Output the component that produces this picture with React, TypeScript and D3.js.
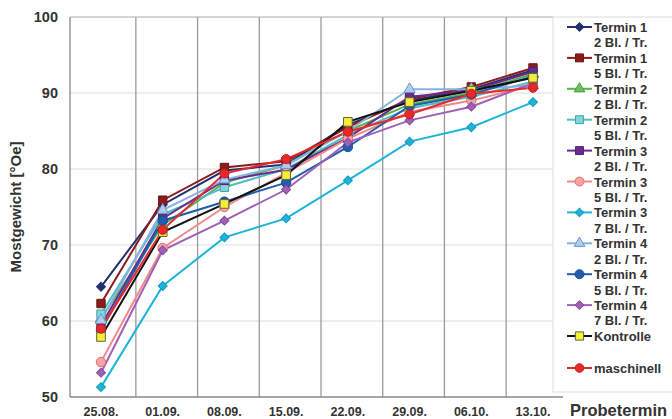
import React from "react";
import * as d3 from "d3";

const categories = ["25.08.", "01.09.", "08.09.", "15.09.", "22.09.", "29.09.", "06.10.", "13.10."];
const yTicks = [50, 60, 70, 80, 90, 100];

const t1_2 = [64.5, 75.3, 79.8, 80.6, 85.8, 89.0, 90.5, 93.0];
const t1_5 = [62.3, 75.9, 80.2, 81.0, 85.5, 89.2, 90.8, 93.3];
const t2_2 = [60.3, 72.6, 78.2, 80.5, 85.0, 88.5, 90.0, 92.5];
const t2_5 = [60.9, 74.0, 77.6, 80.0, 84.5, 88.0, 89.5, 91.5];
const t3_2 = [59.4, 73.5, 78.5, 79.9, 84.1, 89.5, 90.3, 92.8];
const t3_5 = [54.6, 69.6, 75.0, 79.5, 84.0, 87.5, 89.0, 91.0];
const t3_7 = [51.3, 64.6, 71.0, 73.5, 78.5, 83.6, 85.5, 88.8];
const t4_2 = [60.1, 74.6, 78.6, 80.5, 85.0, 90.5, 90.5, 91.0];
const t4_5 = [58.8, 73.2, 75.7, 78.2, 82.9, 88.3, 89.8, 92.2];
const t4_7 = [53.2, 69.3, 73.2, 77.3, 83.5, 86.4, 88.2, 91.3];
const kontrolle = [57.9, 71.7, 75.4, 79.2, 86.2, 88.8, 90.3, 92.0];
const maschinell = [59.0, 72.0, 79.4, 81.3, 84.9, 87.2, 89.9, 90.7];

const seriesNames = [
  ["Termin 1", "2 Bl. / Tr."],
  ["Termin 1", "5 Bl. / Tr."],
  ["Termin 2", "2 Bl. / Tr."],
  ["Termin 2", "5 Bl. / Tr."],
  ["Termin 3", "2 Bl. / Tr."],
  ["Termin 3", "5 Bl. / Tr."],
  ["Termin 3", "7 Bl. / Tr."],
  ["Termin 4", "2 Bl. / Tr."],
  ["Termin 4", "5 Bl. / Tr."],
  ["Termin 4", "7 Bl. / Tr."],
  ["Kontrolle"],
  ["maschinell"],
];
const seriesValues = [t1_2, t1_5, t2_2, t2_5, t3_2, t3_5, t3_7, t4_2, t4_5, t4_7, kontrolle, maschinell];

type Style = { line: string; fill: string; stroke: string; shape: d3.SymbolType; size: number };
const styles: Style[] = [
  { line: "#23306e", fill: "#23306e", stroke: "#23306e", shape: d3.symbolSquare, size: 40 },
  { line: "#8a1c1c", fill: "#8a1c1c", stroke: "#6e1414", shape: d3.symbolSquare, size: 70 },
  { line: "#5ab44e", fill: "#6cc060", stroke: "#4a9a40", shape: d3.symbolTriangle, size: 55 },
  { line: "#52bcc6", fill: "#86d4da", stroke: "#3aa4b0", shape: d3.symbolSquare, size: 70 },
  { line: "#6a2c8c", fill: "#6a2c8c", stroke: "#55207a", shape: d3.symbolSquare, size: 70 },
  { line: "#f08a8a", fill: "#f5a3a3", stroke: "#e07070", shape: d3.symbolCircle, size: 70 },
  { line: "#1cb4d8", fill: "#1cb4d8", stroke: "#1598b8", shape: d3.symbolSquare, size: 40 },
  { line: "#88b2e0", fill: "#b0cdee", stroke: "#6a96cc", shape: d3.symbolTriangle, size: 55 },
  { line: "#1f5eae", fill: "#1f5eae", stroke: "#184c90", shape: d3.symbolCircle, size: 70 },
  { line: "#a060b6", fill: "#a060b6", stroke: "#84489a", shape: d3.symbolSquare, size: 40 },
  { line: "#111111", fill: "#f4ee3a", stroke: "#666633", shape: d3.symbolSquare, size: 75 },
  { line: "#e8282c", fill: "#e8282c", stroke: "#c01c20", shape: d3.symbolCircle, size: 65 },
];
const rotated = [true, false, false, false, false, false, true, false, false, true, false, false];

const W = 672;
const H = 419;
const plotLeft = 70;
const plotRight = 553;
const plotTop = 17;
const plotBottom = 397;

export default function App() {
  const x = d3.scalePoint<string>().domain(categories).range([101, 533]);
  const y = d3.scaleLinear().domain([50, 100]).range([plotBottom, plotTop]);
  const step = x.step();
  const line = d3
    .line<number>()
    .x((_, i) => x(categories[i]) as number)
    .y((v) => y(v));
  const font = "'Liberation Sans', Arial, sans-serif";
  const legendY0 = 27;
  const legendStep = 30.9;

  return (
    <div style={{ position: "absolute", left: 0, top: 0 }}>
      <svg width={W} height={H} style={{ display: "block", background: "#fff" }} fontFamily={font}>
        {yTicks.slice(1, -1).map((t) => (
          <line key={"h" + t} x1={plotLeft} x2={plotRight} y1={y(t)} y2={y(t)} stroke="#dddddd" strokeWidth={1} />
        ))}
        {categories.slice(0, -1).map((c) => {
          const gx = (x(c) as number) + step / 2 + 4;
          return <line key={"v" + c} x1={gx} x2={gx} y1={plotTop} y2={plotBottom} stroke="#9a9a9a" strokeWidth={1.3} />;
        })}
        <line x1={plotLeft} x2={plotLeft} y1={plotTop} y2={plotBottom} stroke="#888" strokeWidth={1.3} />
        <line x1={plotLeft} x2={plotRight} y1={plotTop} y2={plotTop} stroke="#aaa" strokeWidth={1} />
        <line x1={plotLeft} x2={plotRight + 10} y1={plotBottom} y2={plotBottom} stroke="#888" strokeWidth={1.3} />
        <rect x={plotRight} y={plotTop} width={140} height={plotBottom - plotTop - 5} fill="none" stroke="#dcdcdc" strokeWidth={1} />

        {yTicks.map((t) => (
          <text key={"yt" + t} x={58} y={y(t) + 5} textAnchor="end" fontSize={14.5} fontWeight="bold" fill="#333">
            {t}
          </text>
        ))}
        {categories.map((c) => (
          <text key={"xt" + c} x={x(c) as number} y={416} textAnchor="middle" fontSize={12.5} fontWeight="bold" fill="#333">
            {c}
          </text>
        ))}
        <text x={570} y={416} fontSize={16.5} fontWeight="bold" fill="#333">
          Probetermin
        </text>
        <text
          transform={`translate(21, ${(plotTop + plotBottom) / 2}) rotate(-90)`}
          textAnchor="middle"
          fontSize={15}
          fontWeight="bold"
          fill="#333"
        >
          Mostgewicht [°Oe]
        </text>

        {seriesValues.map((vals, i) => (
          <path key={"l" + i} d={line(vals) || ""} fill="none" stroke={styles[i].line} strokeWidth={2} />
        ))}
        {seriesValues.map((vals, i) => {
          const s = styles[i];
          const sym = d3.symbol().type(s.shape).size(s.size)();
          const rot = rotated[i] ? " rotate(45)" : "";
          return (
            <g key={"m" + i}>
              {vals.map((v, j) => (
                <path
                  key={j}
                  d={sym || ""}
                  transform={`translate(${x(categories[j])},${y(v)})${rot}`}
                  fill={s.fill}
                  stroke={s.stroke}
                  strokeWidth={1}
                />
              ))}
            </g>
          );
        })}

        {seriesNames.map((names, i) => {
          const s = styles[i];
          const ly = i === 11 ? 368 : legendY0 + i * legendStep;
          const sym = d3.symbol().type(s.shape).size(s.size * 0.9)();
          const rot = rotated[i] ? " rotate(45)" : "";
          return (
            <g key={"lg" + i}>
              <line x1={567} x2={592} y1={ly} y2={ly} stroke={s.line} strokeWidth={2} />
              <path d={sym || ""} transform={`translate(579.5,${ly})${rot}`} fill={s.fill} stroke={s.stroke} strokeWidth={1} />
              {names.map((n, k) => (
                <text key={k} x={594} y={ly + 5 + k * 15.3} fontSize={13} fontWeight="bold" fill="#333">
                  {n}
                </text>
              ))}
            </g>
          );
        })}
      </svg>
    </div>
  );
}
